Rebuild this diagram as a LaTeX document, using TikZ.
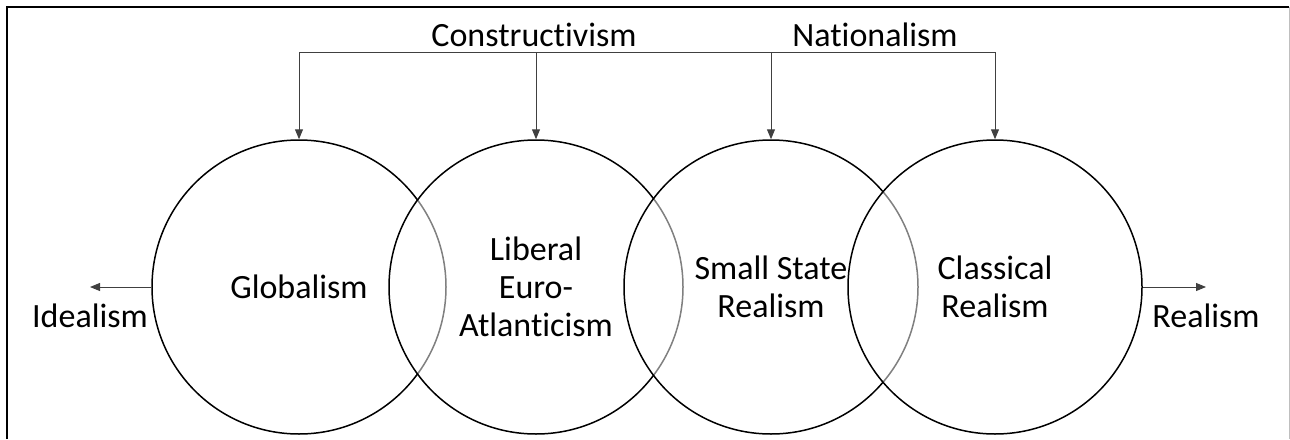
\documentclass[tikz,border=0pt]{standalone}
\usepackage{fontspec}
\setmainfont{Carlito}[Ligatures={NoCommon,NoContextual},Contextuals=NoAlternate]
\usetikzlibrary{arrows.meta}
\definecolor{wire}{HTML}{404040}

\begin{document}
\begin{tikzpicture}[x=0.5pt,y=-0.5pt,
  ring/.style={circle,draw=black,line width=0.75pt,fill=white,fill opacity=0.5,text opacity=1,minimum size=147pt,inner sep=0pt,align=center,font=\fontsize{17}{19}\selectfont},
  tag/.style={inner sep=0pt,font=\fontsize{17}{19}\selectfont},
  feed/.style={draw=wire,line width=0.5pt,-{Triangle[width=4pt,length=5pt]}}]
\useasboundingbox (0,0) rectangle (1290,439);
% frame
\draw[line width=1pt] (7,439) -- (7,7) -- (1289,7);
\draw[black!25,line width=0.5pt] (1289,7) -- (1289,439);
% circles
\node[ring] (glob) at (299,287) {Globalism};
\node[ring] (libeu) at (536,287) {Liberal\\Euro-\\Atlanticism};
\node[ring] (small) at (771,287) {Small State\\Realism};
\node[ring] (class) at (995,287) {Classical\\Realism};
% labels
\node[tag] (constr) at (534,35) {Constructivism};
\node[tag] (nation) at (875,35) {Nationalism};
\node[tag] (ideal) at (90,316) {Idealism};
\node[tag] (real) at (1206,316) {Realism};
% arrows
\coordinate (bar) at (0,52);
\draw[draw=wire,line width=0.5pt] (glob.north |- bar) -- (class.north |- bar);
\foreach \c in {glob,libeu,small,class} \draw[feed] (\c.north |- bar) -- (\c.north);
\draw[feed] (glob.west) -- (glob.west -| ideal);
\draw[feed] (class.east) -- (class.east -| real);
\end{tikzpicture}
\end{document}
